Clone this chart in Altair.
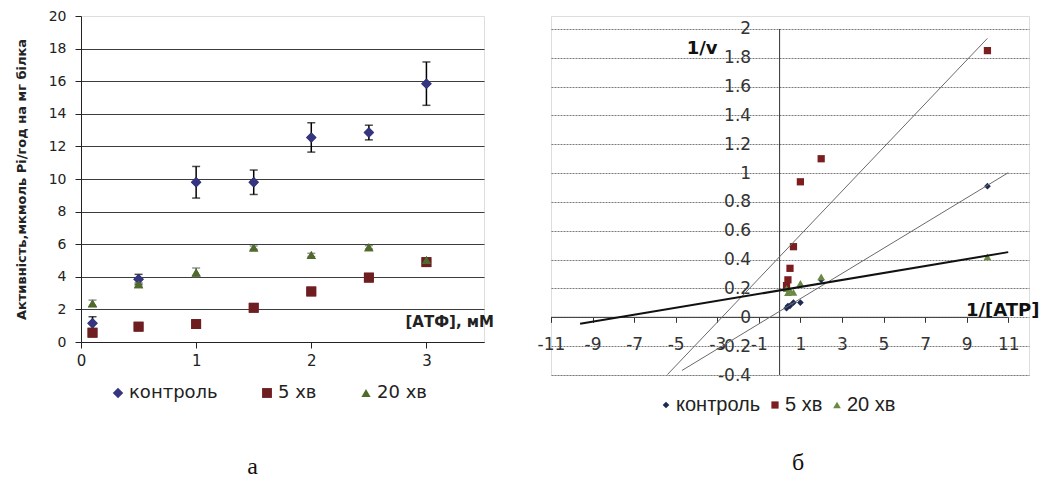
import altair as alt
import pandas as pd

# ---------------- data ----------------
series_names = ["контроль", "5 хв", "20 хв"]

# panel a: activity vs [ATP]
atf_mM = [0.1, 0.5, 1, 1.5, 2, 2.5, 3]
act_control = [1.15, 3.85, 9.8, 9.8, 12.55, 12.85, 15.85]
err_control = [0.4, 0.3, 0.97, 0.75, 0.9, 0.45, 1.33]
act_5min = [0.57, 0.94, 1.1, 2.1, 3.1, 3.95, 4.9]
err_5min = [0.05, 0.05, 0.05, 0.05, 0.2, 0.1, 0.15]
act_20min = [2.37, 3.54, 4.27, 5.79, 5.34, 5.81, 5.03]
err_20min = [0.2, 0.1, 0.27, 0.1, 0.1, 0.1, 0.1]

# panel б: Lineweaver-Burk
inv_atp = [10, 2, 1, 0.667, 0.5, 0.4, 0.333]
inv_v_control = [0.91, 0.26, 0.102, 0.102, 0.08, 0.078, 0.063]
inv_v_5min = [1.85, 1.10, 0.94, 0.49, 0.34, 0.26, 0.22]
inv_v_20min = [0.42, 0.28, 0.235, 0.173, 0.187, 0.172, 0.199]
trend_extent = {"контроль": [-4.7, 11], "5 хв": [-5.4, 10], "20 хв": [-9.6, 11]}

x_ticks_left = [0, 1, 2, 3]
y_ticks_left = [0, 2, 4, 6, 8, 10, 12, 14, 16, 18, 20]
x_ticks_right = [-11, -9, -7, -5, -3, -1, 1, 3, 5, 7, 9, 11]
y_ticks_right = [-0.4, -0.2, 0, 0.2, 0.4, 0.6, 0.8, 1, 1.2, 1.4, 1.6, 1.8, 2]
x_axis_span = [-11, 11]
y_axis_span = [-0.4, 2]

# ---------------- layout ----------------
LW, LH = 403, 326
RW, RH = 478, 359
RX_DOM = [-11, 12]
RY_DOM = [-0.4, 2.09]
y0_off = -(RH * (0 - RY_DOM[0]) / (RY_DOM[1] - RY_DOM[0]))
x0_off = -(RW * (0 - RX_DOM[0]) / (RX_DOM[1] - RX_DOM[0]))

# ---------------- left panel ----------------
rows = []
for name, ys, es in [("контроль", act_control, err_control),
                     ("5 хв", act_5min, err_5min),
                     ("20 хв", act_20min, err_20min)]:
    for x, y, e in zip(atf_mM, ys, es):
        rows.append({"atf": x, "act": y, "lo": y - e, "hi": y + e, "series": name})
dl = pd.DataFrame(rows)

xl = alt.X("atf:Q", scale=alt.Scale(domain=[0, 3.5], nice=False),
           axis=alt.Axis(values=x_ticks_left, tickCount=50, format="~g", grid=False,
                         domainColor="#222", tickColor="#222",
                         tickSize=6, labelPadding=5, labelFont="DejaVu Sans", labelFontSize=15,
                         labelColor="#222", labelFlush=False, labelOverlap=False,
                         title="[АТФ], мМ", titleX=324, titleY=-16, titleAlign="left",
                         titleBaseline="alphabetic", titleFont="DejaVu Sans", titleFontSize=15,
                         titleFontWeight="bold", titleColor="#222"))
yl = alt.Y("act:Q", scale=alt.Scale(domain=[0, 20], nice=False),
           axis=alt.Axis(values=y_ticks_left, tickCount=50, format="~g", grid=True,
                         gridColor="#3c3c3c", gridWidth=1,
                         gridOpacity={"condition": {"test": "datum.value == 20", "value": 0}, "value": 1},
                         domainColor="#222", tickColor="#222", tickSize=6, labelPadding=9,
                         labelFont="DejaVu Sans", labelFontSize=14, labelColor="#222",
                         labelOverlap=False,
                         title="Активність,мкмоль  Pi/год на мг білка", titleFont="DejaVu Sans",
                         titleFontSize=13, titleFontWeight="bold", titleColor="#222",
                         titlePadding=20))

err_color = alt.condition(alt.datum.series == "контроль", alt.value("#000"), alt.value("#666"))
base_l = alt.Chart(dl)
err_rule = base_l.mark_rule(strokeWidth=1.5).encode(x="atf:Q", y="lo:Q", y2="hi:Q", color=err_color)
err_lo = base_l.mark_tick(orient="horizontal", size=8, thickness=1.5).encode(
    x="atf:Q", y="lo:Q", color=err_color)
err_hi = base_l.mark_tick(orient="horizontal", size=8, thickness=1.5).encode(
    x="atf:Q", y="hi:Q", color=err_color)

leg_l = alt.Legend(orient="none", legendX=28, legendY=368, direction="horizontal",
                   title=None, labelFont="DejaVu Sans", labelFontSize=18,
                   labelColor="#222", columnPadding=40, labelOffset=2, symbolStrokeWidth=0)
pts_l = base_l.mark_point(filled=True, opacity=1).encode(
    x=xl, y=yl,
    color=alt.Color("series:N", scale=alt.Scale(domain=series_names,
                    range=["#353580", "#6e1d20", "#4f6b2b"]), legend=leg_l),
    shape=alt.Shape("series:N", scale=alt.Scale(domain=series_names,
                    range=["diamond", "square", "triangle-up"]), legend=leg_l),
    size=alt.Size("series:N", scale=alt.Scale(domain=series_names, range=[110, 85, 135]), legend=None),
)

left = alt.layer(pts_l, err_rule, err_lo, err_hi, pts_l).properties(
    width=LW, height=LH,
    title=alt.TitleParams("а", orient="bottom", frame="group", anchor="middle", dx=-30, offset=72,
                          baseline="alphabetic", font="Liberation Serif", fontSize=24,
                          fontWeight="normal", color="#111"))

# ---------------- right panel ----------------
rows = []
for name, ys in [("контроль", inv_v_control), ("5 хв", inv_v_5min), ("20 хв", inv_v_20min)]:
    for x, y in zip(inv_atp, ys):
        rows.append({"inv_atp": x, "inv_v": y, "series": name})
dr = pd.DataFrame(rows)

xr = alt.X("inv_atp:Q", scale=alt.Scale(domain=RX_DOM, nice=False, zero=False),
           axis=alt.Axis(values=x_ticks_right, tickCount=50, grid=False, domain=False, ticks=True,
                         tickSize=5, tickColor="#333", offset=y0_off, labelPadding=14,
                         labelFont="DejaVu Sans", labelFontSize=17, labelColor="#333",
                         labelFlush=False, labelOverlap=False, labelExpr="datum.value + ''",
                         title="1/[ATP]", titleX=488, titleY=-2, titleAlign="right",
                         titleBaseline="alphabetic", titleFont="DejaVu Sans", titleFontSize=18,
                         titleFontWeight="bold", titleColor="#111"))
yr = alt.Y("inv_v:Q", scale=alt.Scale(domain=RY_DOM, nice=False, zero=False),
           axis=alt.Axis(values=y_ticks_right, tickCount=50, grid=True, gridColor="#7a7a7a",
                         gridDash=[2, 1], gridWidth=1, ticks=False, domain=False, offset=x0_off,
                         labelPadding=29, labelFont="DejaVu Sans", labelFontSize=17,
                         labelColor="#333", labelOverlap=False, labelExpr="datum.value + ''",
                         title="1/v", titleAngle=0, titleX=-78, titleY=32, titleAlign="center",
                         titleBaseline="middle", titleFont="DejaVu Sans", titleFontSize=18,
                         titleFontWeight="bold", titleColor="#111"))

base_r = alt.Chart(dr)
xaxis_line = alt.Chart(pd.DataFrame({"x": [x_axis_span[0]], "x2": [x_axis_span[1]], "y": [0]})).mark_rule(
    color="#333", strokeWidth=1).encode(x="x:Q", x2="x2:Q", y="y:Q")
yaxis_line = alt.Chart(pd.DataFrame({"x": [0], "y": [y_axis_span[0]], "y2": [y_axis_span[1]]})).mark_rule(
    color="#333", strokeWidth=1).encode(x="x:Q", y="y:Q", y2="y2:Q")

trend_styles = {"контроль": ("#6a6a6a", 1), "5 хв": ("#6a6a6a", 1), "20 хв": ("#111", 2)}
trends = []
for name in series_names:
    col, sw = trend_styles[name]
    trends.append(base_r.transform_filter(alt.datum.series == name)
                  .transform_regression("inv_atp", "inv_v", extent=trend_extent[name])
                  .mark_line(color=col, strokeWidth=sw, clip=True)
                  .encode(x="inv_atp:Q", y="inv_v:Q"))

leg_r = alt.Legend(orient="none", legendX=105, legendY=379, direction="horizontal", title=None,
                   labelFont="Liberation Sans", labelFontSize=20, labelColor="#222",
                   columnPadding=4, labelOffset=0, symbolStrokeWidth=0)
pts_r = base_r.mark_point(filled=True, opacity=1).encode(
    x=xr, y=yr,
    color=alt.Color("series:N", scale=alt.Scale(domain=series_names,
                    range=["#1d2b52", "#7c1d1f", "#6a8a44"]), legend=leg_r),
    shape=alt.Shape("series:N", scale=alt.Scale(domain=series_names,
                    range=["diamond", "square", "triangle-up"]), legend=leg_r),
    size=alt.Size("series:N", scale=alt.Scale(domain=series_names, range=[45, 60, 60]), legend=None),
)

right = alt.layer(pts_r, xaxis_line, yaxis_line, *trends).properties(
    width=RW, height=RH,
    title=alt.TitleParams("б", orient="bottom", frame="group", anchor="middle", dx=8, offset=55,
                          baseline="alphabetic", font="Liberation Serif", fontSize=24,
                          fontWeight="normal", color="#111"))

chart = alt.hconcat(left, right, spacing=67, bounds="flush").resolve_scale(
    color="independent", shape="independent", size="independent", x="independent", y="independent"
).resolve_legend(color="independent", shape="independent").properties(
    padding={"left": 6, "top": 0, "right": 0, "bottom": 0}
).configure_view(stroke=None).configure(background="white")

chart.save("out.html", embed_options={"renderer": "svg", "actions": False})
